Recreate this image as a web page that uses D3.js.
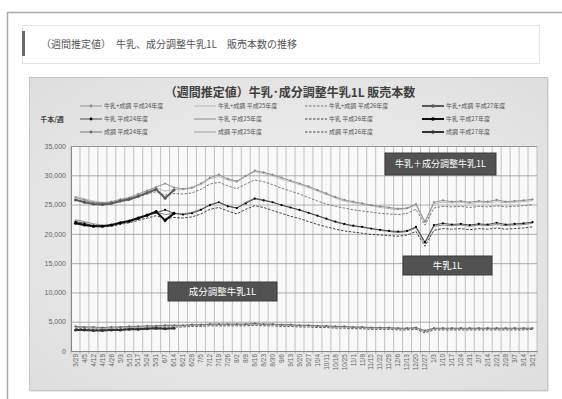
<!DOCTYPE html>
<html>
<head>
<meta charset="utf-8">
<script src="https://cdn.jsdelivr.net/npm/d3@7"></script>
<style>
	body { margin: 0; background: #fff; }
	svg { display: block; font-family: 'Noto Sans CJK JP', 'Noto Sans', sans-serif; }
</style>
</head>
<body>
<div id="chart"></div>
<script>
// week labels (fiscal year, week starting)
const weeks = ['3/29', '4/5', '4/12', '4/19', '4/26', '5/3', '5/10', '5/17', '5/24', '5/31', '6/7', '6/14', '6/21', '6/28',
	'7/5', '7/12', '7/19', '7/26', '8/2', '8/9', '8/16', '8/23', '8/30', '9/6', '9/13', '9/20', '9/27', '10/4', '10/11',
	'10/18', '10/25', '11/1', '11/8', '11/15', '11/22', '11/29', '12/6', '12/13', '12/20', '12/27', '1/3', '1/10', '1/17',
	'1/24', '1/31', '2/7', '2/14', '2/21', '2/28', '3/7', '3/14', '3/21']

const yTicks = [0, 5000, 10000, 15000, 20000, 25000, 30000, 35000]

const groups = ['牛乳+成調', '牛乳', '成調']
const years = ['平成24年度', '平成25年度', '平成26年度', '平成27年度']

// 牛乳+成分調整牛乳 (千本/週)
const totalH24 = [26200, 25800, 25400, 25300, 25500, 25900, 26200, 26800, 27400, 28000, 28600, 27900, 27700, 27900, 28600, 29600, 30100, 29400, 29000, 29900, 30800, 30500, 30100, 29600, 29100, 28600, 28100, 27500, 26900, 26300, 25800, 25500, 25200, 24900, 24700, 24500, 24300, 24400, 25100, 22100, 25400, 25700, 25500, 25600, 25400, 25600, 25500, 25800, 25500, 25600, 25700, 25900]
const totalH25 = [26400, 26000, 25600, 25400, 25300, 25700, 26100, 26600, 27200, 27800, 27300, 27600, 27500, 27800, 28400, 29400, 29800, 29200, 28800, 29800, 30600, 30300, 29900, 29300, 28900, 28400, 27900, 27300, 26700, 26100, 25600, 25300, 25000, 24800, 24500, 24300, 24100, 24300, 24900, 21900, 25100, 25400, 25300, 25400, 25200, 25400, 25300, 25500, 25300, 25400, 25500, 25700]
const totalH26 = [25900, 25600, 25300, 25100, 25200, 25500, 25800, 26300, 26800, 27200, 26600, 26900, 26800, 27000, 27600, 28500, 28800, 28200, 27700, 28500, 29200, 28900, 28400, 27800, 27300, 26800, 26200, 25600, 25100, 24700, 24400, 24100, 23900, 23700, 23500, 23400, 23300, 23500, 24200, 21500, 24400, 24700, 24600, 24700, 24500, 24700, 24600, 24800, 24600, 24700, 24800, 25000]
const totalH27 = [25800, 25400, 25100, 25000, 25200, 25600, 25900, 26400, 27000, 27600, 26100, 27500]

// 牛乳
const milkH24 = [22100, 21800, 21400, 21300, 21500, 21800, 22100, 22600, 23100, 23600, 24100, 23500, 23300, 23500, 24100, 24900, 25400, 24700, 24400, 25200, 26000, 25700, 25400, 24900, 24500, 24100, 23600, 23100, 22600, 22100, 21700, 21400, 21200, 20900, 20700, 20500, 20400, 20500, 21200, 18600, 21500, 21800, 21600, 21700, 21500, 21700, 21600, 21900, 21600, 21700, 21800, 22000]
const milkH25 = [22400, 22100, 21700, 21500, 21400, 21800, 22200, 22600, 23100, 23700, 23300, 23500, 23400, 23700, 24200, 25000, 25400, 24800, 24400, 25400, 26100, 25800, 25400, 24900, 24500, 24000, 23600, 23100, 22500, 22000, 21600, 21300, 21100, 20900, 20600, 20400, 20200, 20400, 21000, 18300, 21300, 21500, 21400, 21500, 21300, 21500, 21400, 21600, 21400, 21500, 21600, 21800]
const milkH26 = [22000, 21700, 21400, 21200, 21300, 21600, 21900, 22300, 22700, 23100, 22600, 22800, 22700, 22900, 23400, 24200, 24500, 23900, 23400, 24200, 24800, 24500, 24000, 23500, 23000, 22600, 22100, 21600, 21200, 20800, 20500, 20300, 20100, 19900, 19800, 19700, 19600, 19800, 20400, 17900, 20600, 20900, 20800, 20900, 20700, 20900, 20800, 21000, 20800, 20900, 21000, 21200]
const milkH27 = [21800, 21500, 21300, 21300, 21500, 21900, 22200, 22700, 23200, 23800, 22300, 23500]

// 成分調整牛乳
const adjH24 = [4200, 4100, 4100, 4000, 4100, 4100, 4200, 4200, 4300, 4300, 4400, 4400, 4400, 4500, 4500, 4600, 4600, 4600, 4600, 4600, 4700, 4600, 4600, 4500, 4500, 4400, 4400, 4300, 4300, 4200, 4200, 4100, 4100, 4000, 4000, 4000, 3900, 3900, 4000, 3500, 3900, 3900, 3900, 3900, 3900, 3900, 3900, 3900, 3900, 3900, 3900, 3900]
const adjH25 = [4000, 4000, 3900, 3900, 3900, 4000, 4000, 4100, 4100, 4200, 4300, 4300, 4300, 4400, 4400, 4500, 4500, 4500, 4500, 4500, 4600, 4500, 4500, 4400, 4400, 4300, 4300, 4200, 4200, 4100, 4100, 4000, 4000, 3900, 3900, 3900, 3800, 3800, 3900, 3300, 3800, 3800, 3800, 3800, 3800, 3800, 3800, 3800, 3800, 3800, 3800, 3800]
const adjH26 = [3800, 3800, 3700, 3700, 3700, 3800, 3800, 3900, 3900, 4000, 4100, 4100, 4100, 4200, 4200, 4300, 4300, 4300, 4300, 4300, 4400, 4300, 4300, 4200, 4200, 4100, 4100, 4000, 4000, 3900, 3900, 3800, 3800, 3700, 3700, 3700, 3600, 3600, 3700, 3100, 3600, 3600, 3600, 3600, 3600, 3600, 3600, 3600, 3600, 3600, 3600, 3700]
const adjH27 = [3600, 3600, 3500, 3500, 3600, 3600, 3700, 3700, 3800, 3900, 3800, 3900]

const seriesValues = [
	[totalH24, totalH25, totalH26, totalH27],
	[milkH24, milkH25, milkH26, milkH27],
	[adjH24, adjH25, adjH26, adjH27],
]

const callouts = ['牛乳＋成分調整牛乳1L', '牛乳1L', '成分調整牛乳1L']

class WeeklyChart {
	constructor(params) {
		this.attrs = Object.assign(
			{
				container: 'body',
				width: 562,
				height: 399,
				frame: { x: 29, y: 77, w: 518, h: 313 },
				plot: { left: 71, top: 146, right: 537, bottom: 351 },
				groupColors: [
					['#8a8a8a', '#b4b4b4', '#7a7a7a', '#5a5a5a'],
					['#3a3a3a', '#808080', '#404040', '#111111'],
					['#6a6a6a', '#9a9a9a', '#555555', '#333333'],
				],
				yearStyle: [
					{ width: 0.9, dash: null, marker: 1.1 },
					{ width: 0.9, dash: null, marker: 0 },
					{ width: 1, dash: '2.5,1.5', marker: 0 },
					{ width: 2, dash: null, marker: 1.5 },
				],
			},
			params
		)
		this.main()
	}

	main() {
		const { attrs } = this
		this.svg = d3.select(attrs.container)
			.append('svg')
			.attr('width', attrs.width)
			.attr('height', attrs.height)

		this.drawPage()
		this.drawFrame()
		this.setScales()
		this.drawGrid()
		this.drawLines()
		this.drawCallouts()
		this.drawLegend()
	}

	drawPage() {
		const svg = this.svg
		// page border
		svg.append('path')
			.attr('d', 'M7.5,399 V12.5 H562')
			.attr('fill', 'none')
			.attr('stroke', '#a8a8a8')
			.attr('stroke-width', 1.5)

		svg.append('rect')
			.attr('x', 22.5).attr('y', 25.5)
			.attr('width', 517).attr('height', 38)
			.attr('fill', '#fff')
			.attr('stroke', '#e2e2e2')

		svg.append('rect')
			.attr('x', 22).attr('y', 31)
			.attr('width', 3).attr('height', 25)
			.attr('fill', '#6a6a6a')

		svg.append('text')
			.attr('x', 41).attr('y', 47.5)
			.attr('font-size', 10)
			.attr('fill', '#555')
			.text('（週間推定値）　牛乳、成分調整牛乳1L　販売本数の推移')
	}

	drawFrame() {
		const { attrs, svg } = this
		const defs = svg.append('defs')
		const grad = defs.append('radialGradient')
			.attr('id', 'bg')
			.attr('cx', '50%').attr('cy', '50%').attr('r', '70%')
		grad.append('stop').attr('offset', '0%').attr('stop-color', '#f2f2f2')
		grad.append('stop').attr('offset', '100%').attr('stop-color', '#dedede')

		const f = attrs.frame
		svg.append('rect')
			.attr('x', f.x + 1.5).attr('y', f.y + 1.5)
			.attr('width', f.w).attr('height', f.h)
			.attr('fill', '#d4d4d4')
		svg.append('rect')
			.attr('x', f.x + 0.5).attr('y', f.y + 0.5)
			.attr('width', f.w).attr('height', f.h)
			.attr('fill', 'url(#bg)')
			.attr('stroke', '#c4c4c4')

		svg.append('text')
			.attr('x', 290).attr('y', 97)
			.attr('text-anchor', 'middle')
			.attr('font-size', 12)
			.attr('font-weight', 'bold')
			.attr('fill', '#404040')
			.text('（週間推定値）牛乳･成分調整牛乳1L 販売本数')

		svg.append('text')
			.attr('x', 52).attr('y', 122)
			.attr('text-anchor', 'middle')
			.attr('font-size', 7)
			.attr('font-weight', 'bold')
			.attr('fill', '#444')
			.text('千本/週')
	}

	setScales() {
		const p = this.attrs.plot
		this.x = d3.scaleBand().domain(weeks).range([p.left, p.right])
		this.y = d3.scaleLinear().domain([0, 35000]).range([p.bottom, p.top])
	}

	drawGrid() {
		const { attrs, svg, x, y } = this
		const p = attrs.plot

		svg.append('rect')
			.attr('x', p.left).attr('y', p.top)
			.attr('width', p.right - p.left).attr('height', p.bottom - p.top)
			.attr('fill', '#f9f9f9')

		const grid = svg.append('g').attr('class', 'grid')
		grid.selectAll('line.v')
			.data(weeks.concat(['end']))
			.join('line')
			.attr('class', 'v')
			.attr('x1', (d, i) => i < weeks.length ? x(d) : p.right)
			.attr('x2', (d, i) => i < weeks.length ? x(d) : p.right)
			.attr('y1', p.top).attr('y2', p.bottom + 3)
			.attr('stroke', '#a9a9a9')
			.attr('stroke-width', 0.7)

		const yAxis = svg.append('g')
			.attr('transform', `translate(${p.left},0)`)
			.call(d3.axisLeft(y).tickValues(yTicks).tickFormat(d3.format(',')).tickSize(-(p.right - p.left)).tickPadding(5))
		yAxis.select('.domain').attr('stroke', '#888')
		yAxis.selectAll('.tick line').attr('stroke', '#999').attr('stroke-width', 0.8)
		yAxis.selectAll('.tick text')
			.attr('font-size', 7)
			.attr('fill', '#666')
			.attr('font-family', "'Liberation Sans', sans-serif")

		const xAxis = svg.append('g')
			.attr('transform', `translate(0,${p.bottom})`)
			.call(d3.axisBottom(x).tickSize(0).tickPadding(0))
		xAxis.select('.domain').attr('stroke', '#888')
		xAxis.selectAll('.tick text')
			.attr('font-size', 6.5)
			.attr('fill', '#666')
			.attr('font-family', "'Liberation Sans', sans-serif")
			.attr('text-anchor', 'end')
			.attr('transform', 'translate(0,3) rotate(-90)')
			.attr('x', 0).attr('y', 0)
			.attr('dy', '0.35em')
	}

	drawLines() {
		const { attrs, svg, x, y } = this
		const cx = d => x(weeks[d.i]) + x.bandwidth() / 2
		const line = d3.line().x(cx).y(d => y(d.v))
		const order = [1, 2, 0, 3]

		const layer = svg.append('g').attr('class', 'lines')
		seriesValues.forEach((groupSeries, g) => {
			order.forEach(k => {
				const style = attrs.yearStyle[k]
				const color = attrs.groupColors[g][k]
				const pts = groupSeries[k].map((v, i) => ({ v, i }))
				layer.append('path')
					.datum(pts)
					.attr('d', line)
					.attr('fill', 'none')
					.attr('stroke', color)
					.attr('stroke-width', style.width)
					.attr('stroke-dasharray', style.dash)
				if (style.marker) {
					layer.append('g')
						.selectAll('circle')
						.data(pts)
						.join('circle')
						.attr('cx', cx)
						.attr('cy', d => y(d.v))
						.attr('r', style.marker)
						.attr('fill', g === 1 ? '#000' : color)
				}
			})
		})
	}

	drawCallouts() {
		const { svg } = this
		const boxes = [
			{ x: 385, y: 153, w: 111, h: 22, size: 9 },
			{ x: 403, y: 256, w: 89, h: 19, size: 9.5 },
			{ x: 168, y: 282, w: 109, h: 19, size: 9.5 },
		]
		const g = svg.append('g').selectAll('g')
			.data(callouts)
			.join('g')
			.attr('transform', (d, i) => `translate(${boxes[i].x},${boxes[i].y})`)
		g.append('rect')
			.attr('width', (d, i) => boxes[i].w)
			.attr('height', (d, i) => boxes[i].h)
			.attr('fill', '#525252')
			.attr('stroke', '#3c3c3c')
		g.append('text')
			.attr('x', (d, i) => boxes[i].w / 2)
			.attr('y', (d, i) => boxes[i].h / 2)
			.attr('dy', '0.36em')
			.attr('text-anchor', 'middle')
			.attr('font-size', (d, i) => boxes[i].size)
			.attr('fill', '#fff')
			.text(d => d)
	}

	drawLegend() {
		const { attrs, svg } = this
		const colX = [80, 194, 305, 422]
		const rowY = [106, 119, 132]
		const items = []
		groups.forEach((grp, g) => {
			years.forEach((yr, k) => {
				items.push({ label: `${grp} ${yr}`, g, k })
			})
		})

		const legend = svg.append('g').attr('class', 'legend')
			.selectAll('g')
			.data(items)
			.join('g')
			.attr('transform', d => `translate(${colX[d.k]},${rowY[d.g]})`)

		legend.append('line')
			.attr('x1', 0).attr('x2', 22)
			.attr('stroke', d => attrs.groupColors[d.g][d.k])
			.attr('stroke-width', d => attrs.yearStyle[d.k].width)
			.attr('stroke-dasharray', d => attrs.yearStyle[d.k].dash)
		legend.filter(d => attrs.yearStyle[d.k].marker)
			.append('circle')
			.attr('cx', 11)
			.attr('r', d => attrs.yearStyle[d.k].marker + 0.3)
			.attr('fill', d => d.g === 1 ? '#000' : attrs.groupColors[d.g][d.k])
		legend.append('text')
			.attr('x', 24)
			.attr('dy', '0.35em')
			.attr('font-size', 6)
			.attr('fill', '#555')
			.text(d => d.label)
	}
}

new WeeklyChart({ container: '#chart' })
</script>
</body>
</html>
